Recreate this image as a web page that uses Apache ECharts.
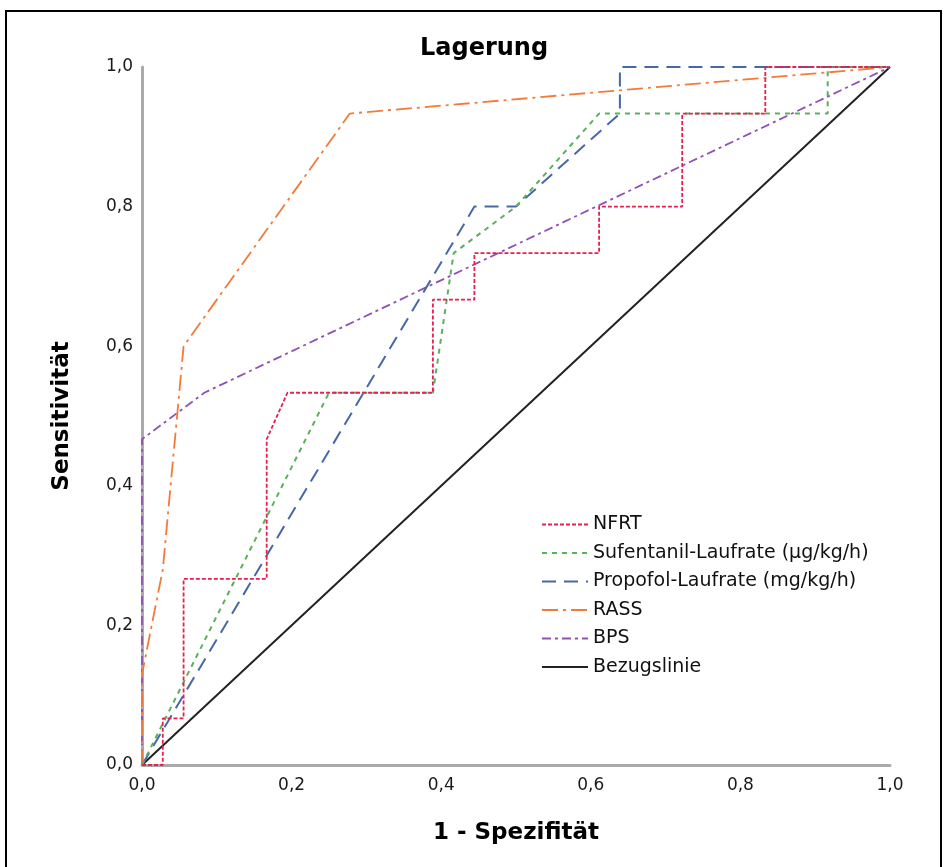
<!DOCTYPE html>
<html>
<head>
<meta charset="utf-8">
<script src="https://cdn.jsdelivr.net/npm/echarts@6/dist/echarts.min.js"></script>
<style>
  html, body { margin: 0; padding: 0; background: #fff; }
  #chart { width: 947px; height: 867px; }
</style>
</head>
<body>
<div id="chart"></div>
<script>
// ROC points [1 - Spezifität, Sensitivität]
const nfrt = [[0,0],[0.0278,0],[0.0278,0.0667],[0.0556,0.0667],[0.0556,0.2667],[0.1667,0.2667],[0.1667,0.4667],[0.1944,0.5333],[0.3889,0.5333],[0.3889,0.6667],[0.4444,0.6667],[0.4444,0.7333],[0.6111,0.7333],[0.6111,0.8],[0.7222,0.8],[0.7222,0.9333],[0.8333,0.9333],[0.8333,1],[1,1]]
const sufentanil = [[0,0],[0.25,0.5333],[0.3889,0.5333],[0.4167,0.7333],[0.5,0.8],[0.6111,0.9333],[0.9167,0.9333],[0.9167,1],[1,1]]
const propofol = [[0,0],[0.4444,0.8],[0.5,0.8],[0.6389,0.9333],[0.6389,1],[1,1]]
const rass = [[0,0],[0,0.13],[0.0278,0.28],[0.0556,0.6],[0.2778,0.9333],[1,1]]
const bps = [[0,0],[0,0.4667],[0.0833,0.5333],[1,1]]
const bezug = [[0,0],[1,1]]

const chart = echarts.init(document.getElementById('chart'))
const font = '"DejaVu Sans", "Liberation Sans", sans-serif'
const fmt = v => v.toFixed(1).replace('.', ',')

const line = (name, data, color, type, width) => ({
  name,
  type: 'line',
  data,
  symbol: 'none',
  animation: false,
  lineStyle: { color, type, width },
  itemStyle: { color },
})

chart.setOption({
  backgroundColor: '#fff',
  textStyle: { fontFamily: font },
  title: {
    text: 'Lagerung',
    left: 415,
    top: 32,
    textStyle: { fontFamily: font, fontSize: 24, fontWeight: 'bold', color: '#000' },
  },
  grid: { left: 142, right: 57, top: 67, bottom: 102 },
  legend: {
    orient: 'vertical',
    left: 536,
    top: 510,
    itemWidth: 46,
    itemHeight: 14,
    itemGap: 9.5,
    itemStyle: { opacity: 0 },
    textStyle: { fontFamily: font, fontSize: 19, color: '#111' },
    data: ['NFRT', 'Sufentanil-Laufrate (µg/kg/h)', 'Propofol-Laufrate (mg/kg/h)', 'RASS', 'BPS', 'Bezugslinie'],
  },
  xAxis: {
    type: 'value',
    min: 0,
    max: 1,
    interval: 0.2,
    name: '1 - Spezifität',
    nameLocation: 'middle',
    nameGap: 57,
    nameTextStyle: { fontFamily: font, fontSize: 23, fontWeight: 'bold', color: '#000' },
    axisLine: { lineStyle: { color: '#aaa', width: 3 } },
    axisTick: { show: false },
    splitLine: { show: false },
    axisLabel: { formatter: fmt, color: '#1a1a1a', fontSize: 17, margin: 12 },
  },
  yAxis: {
    type: 'value',
    min: 0,
    max: 1,
    interval: 0.2,
    name: 'Sensitivität',
    nameLocation: 'middle',
    nameGap: 68,
    nameTextStyle: { fontFamily: font, fontSize: 23, fontWeight: 'bold', color: '#000' },
    axisLine: { show: true, lineStyle: { color: '#aaa', width: 3 } },
    axisTick: { show: false },
    splitLine: { show: false },
    axisLabel: { formatter: fmt, color: '#1a1a1a', fontSize: 17, margin: 9 },
  },
  graphic: [{
    type: 'rect',
    shape: { x: 6, y: 11, width: 935, height: 870 },
    style: { fill: 'none', stroke: '#000', lineWidth: 2 },
    silent: true,
  }],
  series: [
    line('Bezugslinie', bezug, '#222222', 'solid', 2),
    line('BPS', bps, '#9150b8', [9, 4, 3, 4], 1.8),
    line('RASS', rass, '#f47a3a', [16, 5, 3, 5], 1.8),
    line('Propofol-Laufrate (mg/kg/h)', propofol, '#4668a8', [14, 8], 2),
    line('Sufentanil-Laufrate (µg/kg/h)', sufentanil, '#5cb05a', [5, 5], 2),
    line('NFRT', nfrt, '#e6214f', [4, 2], 1.8),
  ],
})
</script>
</body>
</html>
